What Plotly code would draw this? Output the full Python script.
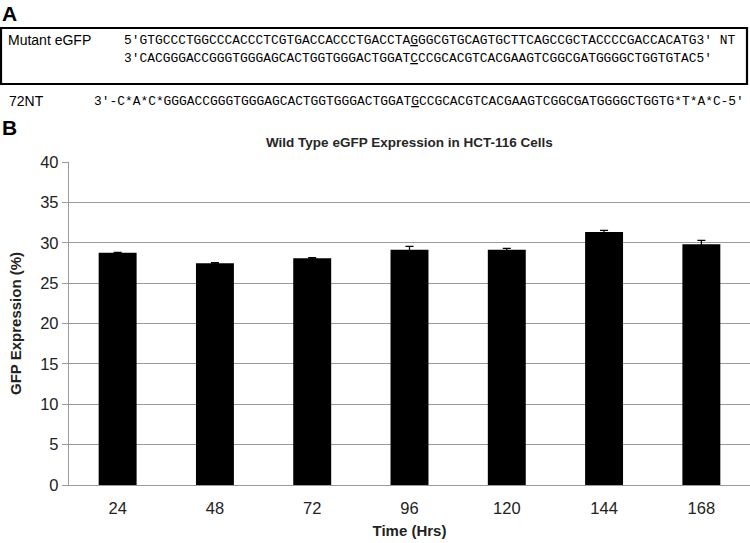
import plotly.graph_objects as go

# data
time_hrs = ["24", "48", "72", "96", "120", "144", "168"]
gfp_expression = [28.77, 27.45, 28.07, 29.14, 29.14, 31.33, 29.80]
gfp_error = [0.05, 0.10, 0.10, 0.42, 0.17, 0.20, 0.50]

seq_top = "5'GTGCCCTGGCCCACCCTCGTGACCACCCTGACCTA<u>G</u>GGCGTGCAGTGCTTCAGCCGCTACCCCGACCACATG3' NT"
seq_bottom = "3'CACGGGACCGGGTGGGAGCACTGGTGGGACTGGAT<u>C</u>CCGCACGTCACGAAGTCGGCGATGGGGCTGGTGTAC5'"
seq_72nt = "3'-C*A*C*GGGACCGGGTGGGAGCACTGGTGGGACTGGAT<u>G</u>CCGCACGTCACGAAGTCGGCGATGGGGCTGGTG*T*A*C-5'"

W, H = 750, 543
L, R, T, B = 69, 0, 162, 58
PW, PH = W - L - R, H - T - B


def px(x):
    return (x - L) / PW


def py(y):
    return (H - B - y) / PH


fig = go.Figure()
fig.add_trace(go.Bar(
    x=time_hrs, y=gfp_expression,
    marker=dict(color="black", line=dict(width=0)),
    error_y=dict(type="data", array=gfp_error, color="black", thickness=1.2, width=4),
))

mono = dict(family="Liberation Mono, Courier New, monospace", size=12.9, color="black")
sans = "Liberation Sans, Arial, sans-serif"

ann = [
    dict(x=px(0), y=py(13), text="<b>A</b>", font=dict(family=sans, size=21, color="black"), xanchor="left"),
    dict(x=px(0), y=py(128), text="<b>B</b>", font=dict(family=sans, size=21, color="black"), xanchor="left"),
    dict(x=px(6), y=py(40), text="Mutant eGFP", font=dict(family=sans, size=14, color="black"), xanchor="left"),
    dict(x=px(7), y=py(101), text="72NT", font=dict(family=sans, size=14, color="black"), xanchor="left"),
    dict(x=px(122), y=py(40), text=seq_top, font=mono, xanchor="left"),
    dict(x=px(122), y=py(58), text=seq_bottom, font=mono, xanchor="left"),
    dict(x=px(92), y=py(101), text=seq_72nt, font=mono, xanchor="left"),
    dict(x=0.5, y=py(142), text="<b>Wild Type eGFP Expression in HCT-116 Cells</b>",
         font=dict(family=sans, size=13.5, color="#262626"), xanchor="center"),
]
for a in ann:
    a.update(xref="paper", yref="paper", showarrow=False, yanchor="middle")

fig.update_layout(
    width=W, height=H,
    margin=dict(l=L, r=R, t=T, b=B),
    plot_bgcolor="white", paper_bgcolor="white",
    bargap=0.61,
    showlegend=False,
    annotations=ann,
    shapes=[dict(type="rect", xref="paper", yref="paper",
                 x0=px(1), x1=px(747), y0=py(84), y1=py(28),
                 line=dict(color="black", width=2.2))],
    font=dict(family=sans, color="#222222"),
)
fig.update_yaxes(
    range=[0, 40], dtick=5, showgrid=True, gridcolor="#9a9a9a", gridwidth=1.3,
    showline=True, linecolor="#9a9a9a", linewidth=1.3, zeroline=False,
    ticks="outside", ticklen=6, tickcolor="#9a9a9a",
    tickfont=dict(size=16.5, color="#222222"),
    title=dict(text="<b>GFP Expression (%)</b>", font=dict(size=15, color="#222222"), standoff=14),
    automargin=False,
)
fig.update_xaxes(
    showline=True, linecolor="#9a9a9a", linewidth=1.3, showgrid=False,
    ticks="outside", ticklen=8, tickcolor="rgba(0,0,0,0)",
    tickfont=dict(size=16.5, color="#222222"),
    title=dict(text="<b>Time (Hrs)</b>", font=dict(size=15, color="#222222"), standoff=9),
    automargin=False,
)

# drop the page's default body margin so the figure sits at the window corner
fig.write_html("out.html", config={"displayModeBar": False},
               post_script="document.body.style.margin='0';")
